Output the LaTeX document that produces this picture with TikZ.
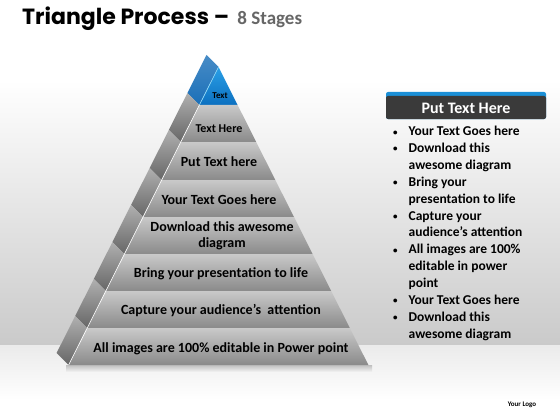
\documentclass[tikz,border=0pt]{standalone}
\usepackage{fontspec}
\setmainfont{Carlito}
\newfontfamily\titlefont{Poppins}
\usetikzlibrary{calc,positioning}

\definecolor{frontlight}{HTML}{C9C9C9}
\definecolor{frontdark}{HTML}{8A8A8A}
\definecolor{sidelight}{HTML}{B0B0B0}
\definecolor{sidedark}{HTML}{666666}
\definecolor{bluelight}{HTML}{2A9FE6}
\definecolor{bluedark}{HTML}{0C70C0}
\definecolor{blueside}{HTML}{1A6FB8}
\definecolor{headgray}{HTML}{3A3A3A}
\definecolor{headblue}{HTML}{1B8FD6}
\definecolor{bggray}{HTML}{CACACA}
\definecolor{stagegray}{HTML}{666666}

\newcommand{\dotmark}{{\fontsize{9}{9}\selectfont\raisebox{0.5pt}{\textbullet}}}

\begin{document}
\begin{tikzpicture}[x=1pt,y=-1pt,
	front/.style={top color=frontlight,bottom color=frontdark},
	side/.style={top color=sidelight,bottom color=sidedark},
	lbl/.style={font=\bfseries\fontsize{14}{16}\selectfont,align=center,inner sep=0pt}]
		\useasboundingbox (0,0) rectangle (560,420);
		
		% background and floor
		\fill[white] (0,0) rectangle (560,80);
		\shade[top color=white,bottom color=bggray] (0,80) rectangle (560,345);
		\shade[top color=black!8,bottom color=white] (0,345) rectangle (560,400);
		\fill[white] (0,400) rectangle (560,420);
		\shade[top color=black!25,bottom color=black!4] (66,365) rectangle (372,372);
		
		% side of the pyramid
		\shade[top color=blueside!80,bottom color=blueside] (218.5,67) -- (199.4,105) -- (187.4,93) -- (206.5,55) -- cycle;
		\shade[side] (199.4,105) -- (180.8,142) -- (168.8,130) -- (187.4,93) -- cycle;
		\shade[side] (180.8,142) -- (161.7,180) -- (149.7,168) -- (168.8,130) -- cycle;
		\shade[side] (161.7,180) -- (143,217) -- (131,205) -- (149.7,168) -- cycle;
		\shade[side] (143,217) -- (124.4,254) -- (112.4,242) -- (131,205) -- cycle;
		\shade[side] (124.4,254) -- (105.8,291) -- (93.8,279) -- (112.4,242) -- cycle;
		\shade[side] (105.8,291) -- (87.2,328) -- (75.2,316) -- (93.8,279) -- cycle;
		\shade[side] (87.2,328) -- (68.6,365) -- (56.6,353) -- (75.2,316) -- cycle;
		
		% front of the pyramid
		\shade[top color=bluelight,bottom color=bluedark] (218.5,67) -- (237.6,105) -- (199.4,105) -- cycle;
		\shade[front] (199.4,105) -- (237.6,105) -- (256.2,142) -- (180.8,142) -- cycle;
		\shade[front] (180.8,142) -- (256.2,142) -- (275.3,180) -- (161.7,180) -- cycle;
		\shade[front] (161.7,180) -- (275.3,180) -- (294,217) -- (143,217) -- cycle;
		\shade[front] (143,217) -- (294,217) -- (312.6,254) -- (124.4,254) -- cycle;
		\shade[front] (124.4,254) -- (312.6,254) -- (331.2,291) -- (105.8,291) -- cycle;
		\shade[front] (105.8,291) -- (331.2,291) -- (349.8,328) -- (87.2,328) -- cycle;
		\shade[front] (87.2,328) -- (349.8,328) -- (368.4,365) -- (68.6,365) -- cycle;
		
		\draw[cyan!40,semithick] (218.5,67) -- (199.4,105);
		\draw[white,semithick] (199.4,105) -- (68.6,365);
		
		\node[lbl,font=\bfseries\fontsize{9}{10}\selectfont] (s1) at (220,96) {Text};
		\node[lbl,font=\bfseries\fontsize{12}{14}\selectfont] (s2) at (219,129) {Text Here};
		\node[lbl] (s3) at (219,162) {Put Text here};
		\node[lbl] (s4) at (219,200) {Your Text Goes here};
		\node[lbl] (s5) at (222,236) {Download this awesome\\diagram};
		\node[lbl] (s6) at (221,274) {Bring your presentation to life};
		\node[lbl] (s7) at (221,311) {Capture your audience’s\ \ attention};
		\node[lbl] (s8) at (221,349) {All images are 100\% editable in Power point};
		
		% title
		\node[anchor=base west,inner sep=0pt] (title) at (22,25)
			{\titlefont\bfseries\fontsize{22}{24}\selectfont Triangle Process –};
		\node[anchor=base west,inner sep=0pt,text=stagegray,font=\bfseries\fontsize{19}{22}\selectfont] (stages) at ($(title.base east)+(8,0)$) {8 Stages};
		
		% text panel
		\fill[headblue,rounded corners=2pt] (386,92) rectangle (546,119);
		\fill[headgray,rounded corners=2pt] (386,96) rectangle (546,119);
		\node[text=white,font=\bfseries\fontsize{16}{18}\selectfont] (head) at (466,108) {Put Text Here};
		\node[anchor=base west,inner sep=0pt,font=\bfseries\fontsize{13.5}{16.9}\selectfont] (list) at (393,135.5)
			{\begin{tabular}[t]{@{}l@{\hspace{11pt}}l@{}}
				\dotmark & Your Text Goes here\\
				\dotmark & Download this\\
				& awesome diagram\\
				\dotmark & Bring your\\
				& presentation to life\\
				\dotmark & Capture your\\
				& audience’s attention\\
				\dotmark & All images are 100\%\\
				& editable in power\\
				& point\\
				\dotmark & Your Text Goes here\\
				\dotmark & Download this\\
				& awesome diagram
			\end{tabular}};
		
		\node[font=\bfseries\fontsize{7}{8}\selectfont] (logo) at (522,405) {Your Logo};
\end{tikzpicture}
\end{document}
